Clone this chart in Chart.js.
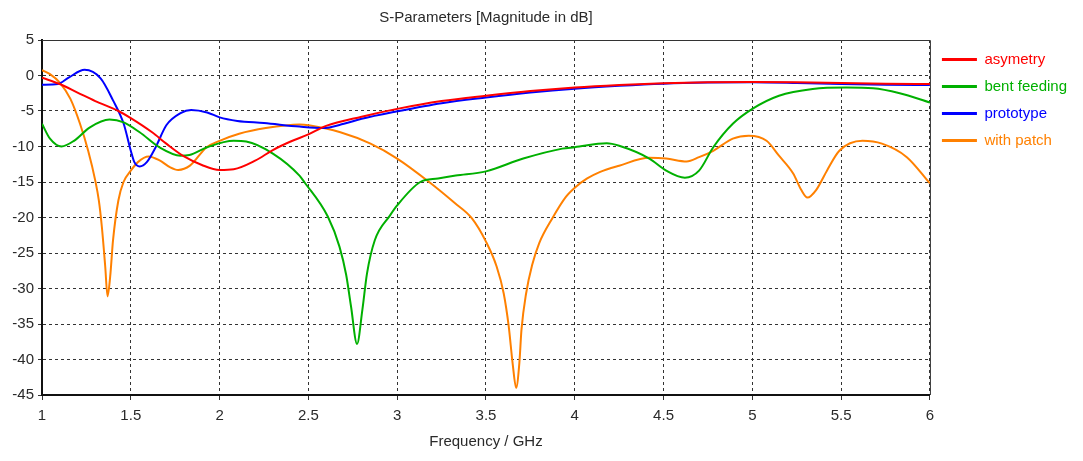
<!DOCTYPE html>
<html>
<head>
<meta charset="utf-8">
<title>S-Parameters</title>
<script src="https://cdn.jsdelivr.net/npm/chart.js@4.4.0/dist/chart.umd.min.js"></script>
<style>
  html, body { margin: 0; padding: 0; background: #fff; }
  #wrap { width: 1083px; height: 461px; }
</style>
</head>
<body>
<div id="wrap"><canvas id="sparams" width="1083" height="461"></canvas></div>
<script>
// values (frequency in GHz, magnitude in dB)
const seriesNames = ["asymetry", "bent feeding", "prototype", "with patch"];
const seriesColors = ["#ff0000", "#00b000", "#0000ff", "#ff8000"];

const asymFreq = [1.0, 1.1, 1.2, 1.3, 1.43, 1.5, 1.62, 1.7, 1.8, 1.9, 2.0, 2.08, 2.2, 2.3, 2.4, 2.5, 2.6, 2.8, 3.0, 3.25, 3.5, 3.75, 4.0, 4.25, 4.5, 4.75, 5.0, 5.25, 5.5, 5.75, 6.0];
const asymDb = [-0.3, -1.2, -2.4, -3.6, -5.0, -6.0, -8.0, -9.6, -11.4, -12.6, -13.3, -13.2, -12.0, -10.5, -9.3, -8.3, -7.1, -5.8, -4.7, -3.6, -2.85, -2.2, -1.7, -1.35, -1.1, -0.95, -0.9, -0.95, -1.05, -1.15, -1.2];

const bentFreq = [1.0, 1.045, 1.11, 1.18, 1.27, 1.38, 1.46, 1.55, 1.66, 1.78, 1.83, 1.93, 2.08, 2.15, 2.3, 2.45, 2.477, 2.61, 2.675, 2.713, 2.74, 2.774, 2.804, 2.83, 2.874, 2.96, 3.0, 3.13, 3.23, 3.33, 3.5, 3.71, 3.93, 4.0, 4.18, 4.25, 4.42, 4.515, 4.62, 4.7, 4.78, 4.89, 5.0, 5.15, 5.34, 5.53, 5.68, 5.83, 6.0];
const bentDb = [-6.8, -8.9, -10.0, -9.2, -7.3, -6.2, -6.6, -8.0, -10.1, -11.3, -11.2, -10.1, -9.2, -9.3, -11.0, -14.1, -15.0, -19.9, -24.1, -28.1, -32.5, -37.8, -33.0, -27.9, -23.2, -19.7, -18.3, -15.0, -14.5, -14.1, -13.5, -11.7, -10.3, -10.1, -9.55, -9.9, -11.7, -13.4, -14.4, -13.4, -10.1, -6.8, -4.7, -2.85, -1.9, -1.7, -1.8, -2.5, -3.8];

const protoFreq = [1.0, 1.09, 1.15, 1.24, 1.33, 1.4, 1.46, 1.5, 1.52, 1.55, 1.59, 1.64, 1.7, 1.78, 1.84, 1.93, 2.0, 2.1, 2.25, 2.45, 2.58, 2.7, 2.8, 3.0, 3.25, 3.5, 3.75, 4.0, 4.25, 4.5, 4.75, 5.0, 5.25, 5.5, 5.75, 6.0];
const protoDb = [-1.3, -1.2, -0.3, 0.8, -0.4, -3.5, -6.8, -10.6, -12.2, -12.8, -12.2, -10.1, -7.0, -5.3, -4.85, -5.2, -5.9, -6.4, -6.7, -7.2, -7.4, -6.8, -6.1, -5.05, -3.9, -3.1, -2.4, -1.85, -1.45, -1.15, -1.0, -0.95, -1.05, -1.2, -1.3, -1.35];

const patchFreq = [1.0, 1.045, 1.1, 1.16, 1.214, 1.26, 1.3, 1.32, 1.337, 1.356, 1.369, 1.384, 1.4, 1.43, 1.459, 1.5, 1.54, 1.6, 1.665, 1.72, 1.767, 1.833, 1.927, 2.0, 2.11, 2.26, 2.45, 2.51, 2.68, 2.85, 3.0, 3.18, 3.326, 3.42, 3.5, 3.56, 3.6, 3.628, 3.65, 3.67, 3.688, 3.7, 3.726, 3.76, 3.8, 3.874, 3.95, 4.005, 4.07, 4.14, 4.25, 4.42, 4.515, 4.63, 4.7, 4.78, 4.89, 4.98, 5.08, 5.15, 5.23, 5.275, 5.31, 5.36, 5.42, 5.49, 5.62, 5.73, 5.87, 6.0];
const patchDb = [0.75, 0.2, -1.0, -3.3, -6.8, -10.6, -14.8, -17.6, -21.3, -26.9, -31.1, -28.3, -23.2, -17.6, -15.0, -13.4, -12.2, -11.4, -12.0, -12.9, -13.3, -12.7, -10.1, -9.2, -8.2, -7.4, -6.9, -7.05, -8.0, -9.6, -11.7, -15.0, -18.0, -20.1, -23.4, -26.9, -30.7, -35.3, -40.5, -44.0, -40.5, -35.8, -30.7, -26.7, -23.6, -20.1, -17.1, -15.7, -14.5, -13.6, -12.7, -11.6, -11.7, -12.1, -11.5, -10.6, -8.9, -8.5, -9.2, -11.3, -13.8, -16.1, -17.2, -16.1, -13.4, -10.6, -9.2, -9.6, -11.5, -15.2];

const freqMin = 1, freqMax = 6, freqStep = 0.5;
const dbMin = -45, dbMax = 5, dbStep = 5;

const allFreq = [asymFreq, bentFreq, protoFreq, patchFreq];
const allDb = [asymDb, bentDb, protoDb, patchDb];

Chart.defaults.font.family = "'Liberation Sans', Arial, sans-serif";
Chart.defaults.font.size = 15;
Chart.defaults.color = "#2a2a2a";

const datasets = seriesNames.map((name, i) => ({
  label: name,
  data: allFreq[i].map((f, j) => ({ x: f, y: allDb[i][j] })),
  borderColor: seriesColors[i],
  backgroundColor: seriesColors[i],
  borderWidth: 2,
  pointRadius: 0,
  fill: false,
  cubicInterpolationMode: "monotone",
}));

// solid frame on top / right of the plot
const frame = {
  id: "frame",
  beforeDatasetsDraw(chart) {
    const { ctx, chartArea: a } = chart;
    ctx.save();
    ctx.strokeStyle = "#333";
    ctx.lineWidth = 1;
    ctx.beginPath();
    ctx.moveTo(a.left, a.top + 0.5);
    ctx.lineTo(a.right + 0.5, a.top + 0.5);
    ctx.lineTo(a.right + 0.5, a.bottom);
    ctx.stroke();
    ctx.restore();
  }
};

new Chart(document.getElementById("sparams"), {
  type: "line",
  data: { datasets: datasets },
  plugins: [frame],
  options: {
    responsive: false,
    animation: false,
    layout: { padding: { left: 0, right: 6, top: 0, bottom: 0 } },
    scales: {
      x: {
        type: "linear",
        min: freqMin,
        max: freqMax,
        ticks: { stepSize: freqStep, padding: 7, color: "#2a2a2a", callback: (v) => String(v) },
        grid: { color: "#333", tickLength: 5, tickBorderDash: [] },
        border: { color: "#111", width: 2, dash: [3, 3] },
        title: { display: true, text: "Frequency / GHz", color: "#2a2a2a", padding: { top: 10, bottom: 10 } },
        afterFit: (s) => { s.height = 66; }
      },
      y: {
        min: dbMin,
        max: dbMax,
        ticks: { stepSize: dbStep, padding: 4, color: "#2a2a2a" },
        grid: { color: "#333", tickLength: 4, tickBorderDash: [] },
        border: { color: "#111", width: 2, dash: [3, 3] },
        afterFit: (s) => { s.width = 42; }
      }
    },
    plugins: {
      title: {
        display: true,
        fullSize: false,
        text: "S-Parameters [Magnitude in dB]",
        color: "#2a2a2a",
        font: { size: 15, weight: "normal" },
        padding: { top: 9, bottom: 13 }
      },
      legend: {
        position: "right",
        align: "start",
        fullSize: false,
        labels: {
          usePointStyle: true,
          pointStyle: "line",
          pointStyleWidth: 35,
          boxWidth: 35,
          padding: 12,
          font: { size: 15 },
          generateLabels: (chart) => chart.data.datasets.map((d, i) => ({
            text: d.label,
            fillStyle: d.borderColor,
            strokeStyle: d.borderColor,
            fontColor: d.borderColor,
            lineWidth: 3,
            pointStyle: "line",
            datasetIndex: i
          }))
        }
      },
      tooltip: { enabled: false }
    }
  }
});
</script>
</body>
</html>
